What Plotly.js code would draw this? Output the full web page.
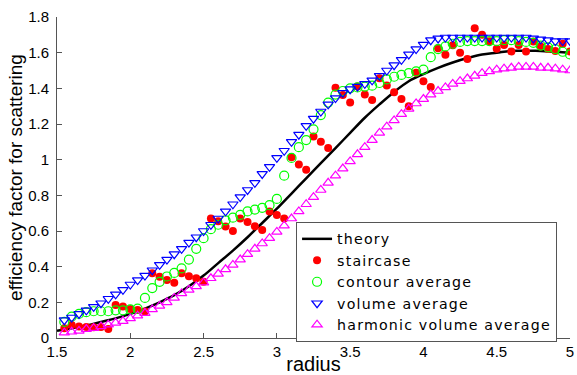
<!DOCTYPE html>
<html>
<head>
<meta charset="utf-8">
<script src="https://cdn.plot.ly/plotly-3.0.1.min.js"></script>
<style>
html,body{margin:0;padding:0;background:#fff;}
#chart{width:577px;height:375px;}
.legendtext{letter-spacing:1.2px;}
</style>
</head>
<body>
<div id="chart"></div>
<script>
// theory curve
var theoryRadius = [1.5,1.6,1.7,1.8,1.9,2.0,2.1,2.2,2.3,2.4,2.5,2.6,2.7,2.8,2.9,3.0,3.1,3.2,3.3,3.4,3.5,3.6,3.7,3.8,3.9,4.0,4.1,4.2,4.3,4.4,4.5,4.6,4.7,4.8,4.9,5.0];
var theory = [0.04,0.055,0.07,0.09,0.11,0.135,0.165,0.20,0.24,0.29,0.35,0.42,0.49,0.565,0.645,0.725,0.81,0.895,0.98,1.065,1.15,1.235,1.31,1.38,1.44,1.48,1.515,1.545,1.57,1.59,1.60,1.61,1.61,1.61,1.605,1.60];

// sample radii for the four approximations
var radius = [1.55,1.60,1.65,1.70,1.75,1.80,1.85,1.90,1.95,2.00,
              2.05,2.10,2.15,2.20,2.25,2.30,2.35,2.40,2.45,2.50,
              2.55,2.60,2.65,2.70,2.75,2.80,2.85,2.90,2.95,3.00,
              3.05,3.10,3.15,3.20,3.25,3.30,3.35,3.40,3.45,3.50,
              3.55,3.60,3.65,3.70,3.75,3.80,3.85,3.90,3.95,4.00,
              4.05,4.10,4.15,4.20,4.25,4.30,4.35,4.40,4.45,4.50,
              4.55,4.60,4.65,4.70,4.75,4.80,4.85,4.90,4.95,5.00];

var staircase = [0.054,0.073,0.065,0.062,0.06,0.062,0.05,0.185,0.176,0.163,
                 0.157,0.148,0.363,0.344,0.325,0.31,0.363,0.346,0.335,0.316,
                 0.67,0.655,0.625,0.60,0.67,0.65,0.626,0.606,0.71,0.69,
                 0.67,1.013,0.973,0.944,1.13,1.10,1.065,1.403,1.362,1.32,
                 1.41,1.366,1.335,1.456,1.416,1.378,1.34,1.30,1.487,1.44,
                 1.408,1.625,1.588,1.642,1.60,1.565,1.737,1.70,1.664,1.622,
                 1.643,1.607,1.643,1.607,1.662,1.634,1.62,1.61,1.65,1.606];

var contourAverage = [0.09,0.12,0.135,0.145,0.15,0.15,0.15,0.155,0.155,0.16,
                      0.165,0.225,0.28,0.315,0.345,0.365,0.39,0.44,0.50,0.56,
                      0.61,0.635,0.66,0.675,0.69,0.71,0.72,0.73,0.745,0.78,
                      0.91,1.01,1.07,1.11,1.17,1.25,1.32,1.365,1.385,1.40,
                      1.405,1.41,1.415,1.43,1.45,1.465,1.475,1.485,1.495,1.505,
                      1.575,1.62,1.635,1.65,1.66,1.665,1.665,1.665,1.665,1.665,
                      1.67,1.67,1.665,1.66,1.655,1.64,1.63,1.62,1.605,1.59];

var volumeAverage = [0.10,0.115,0.135,0.155,0.175,0.195,0.22,0.245,0.27,0.30,
                     0.325,0.35,0.38,0.41,0.44,0.47,0.50,0.535,0.565,0.60,
                     0.635,0.67,0.71,0.75,0.79,0.83,0.87,0.92,0.96,1.01,
                     1.05,1.10,1.14,1.19,1.23,1.27,1.31,1.345,1.375,1.395,
                     1.41,1.425,1.445,1.47,1.50,1.53,1.56,1.59,1.62,1.645,
                     1.67,1.68,1.685,1.685,1.685,1.685,1.685,1.685,1.685,1.685,
                     1.685,1.685,1.685,1.685,1.68,1.675,1.67,1.665,1.665,1.665];

var harmonicAverage = [0.03,0.035,0.04,0.05,0.055,0.065,0.075,0.085,0.095,0.11,
                       0.125,0.14,0.16,0.18,0.20,0.225,0.25,0.27,0.29,0.31,
                       0.335,0.36,0.385,0.41,0.44,0.47,0.50,0.53,0.56,0.595,
                       0.63,0.67,0.71,0.75,0.79,0.83,0.87,0.91,0.95,0.99,
                       1.03,1.07,1.11,1.15,1.185,1.22,1.255,1.285,1.315,1.34,
                       1.365,1.385,1.405,1.425,1.44,1.455,1.47,1.485,1.495,1.505,
                       1.51,1.515,1.52,1.52,1.52,1.515,1.515,1.51,1.505,1.50];

var xTicks = [1.5,2,2.5,3,3.5,4,4.5,5];
var yTicks = [0,0.2,0.4,0.6,0.8,1,1.2,1.4,1.6,1.8];

var traces = [
  {x: theoryRadius, y: theory, name: 'theory', mode: 'lines', type: 'scatter',
   line: {color: '#000000', width: 2.5, shape: 'spline'}},
  {x: radius, y: staircase, name: 'staircase', mode: 'markers', type: 'scatter',
   marker: {symbol: 'circle', color: '#ff0000', size: 8}},
  {x: radius, y: contourAverage, name: 'contour average', mode: 'markers', type: 'scatter',
   marker: {symbol: 'circle-open', color: '#00ff00', size: 9, line: {width: 1.2}}},
  {x: radius, y: volumeAverage, name: 'volume average', mode: 'markers', type: 'scatter',
   marker: {symbol: 'triangle-down-open', color: '#0000ff', size: 9, line: {width: 1.2}}},
  {x: radius, y: harmonicAverage, name: 'harmonic volume average', mode: 'markers', type: 'scatter',
   marker: {symbol: 'triangle-up-open', color: '#ff00ff', size: 9, line: {width: 1.2}}}
];

var layout = {
  width: 577, height: 375,
  margin: {l: 57, r: 7, t: 17, b: 37},
  paper_bgcolor: '#ffffff', plot_bgcolor: '#ffffff',
  font: {family: 'Liberation Sans, Arial, sans-serif', color: '#000000', size: 15},
  showlegend: true,
  legend: {x: 0.466, y: 0.361, xanchor: 'left', yanchor: 'top',
           bordercolor: '#555555', borderwidth: 1, bgcolor: '#ffffff',
           font: {family: 'DejaVu Sans, Liberation Sans, sans-serif', size: 14.2, color: '#000000'},
           tracegroupgap: 0},
  xaxis: {range: [1.5, 5], tickvals: xTicks, ticks: 'inside', ticklen: 5, tickcolor: '#555555',
          showgrid: false, zeroline: false, showline: true, linecolor: '#555555', linewidth: 1,
          mirror: false, tickfont: {size: 15},
          title: {text: 'radius', font: {size: 20}, standoff: 2}},
  yaxis: {range: [0, 1.8], tickvals: yTicks, ticks: 'inside', ticklen: 5, tickcolor: '#555555',
          showgrid: false, zeroline: false, showline: true, linecolor: '#555555', linewidth: 1,
          mirror: false, tickfont: {size: 15}, ticklabelstandoff: 4,
          title: {text: 'efficiency factor for scattering', font: {size: 19}, standoff: 0}}
};

Plotly.newPlot('chart', traces, layout, {displayModeBar: false, staticPlot: true});
</script>
</body>
</html>
